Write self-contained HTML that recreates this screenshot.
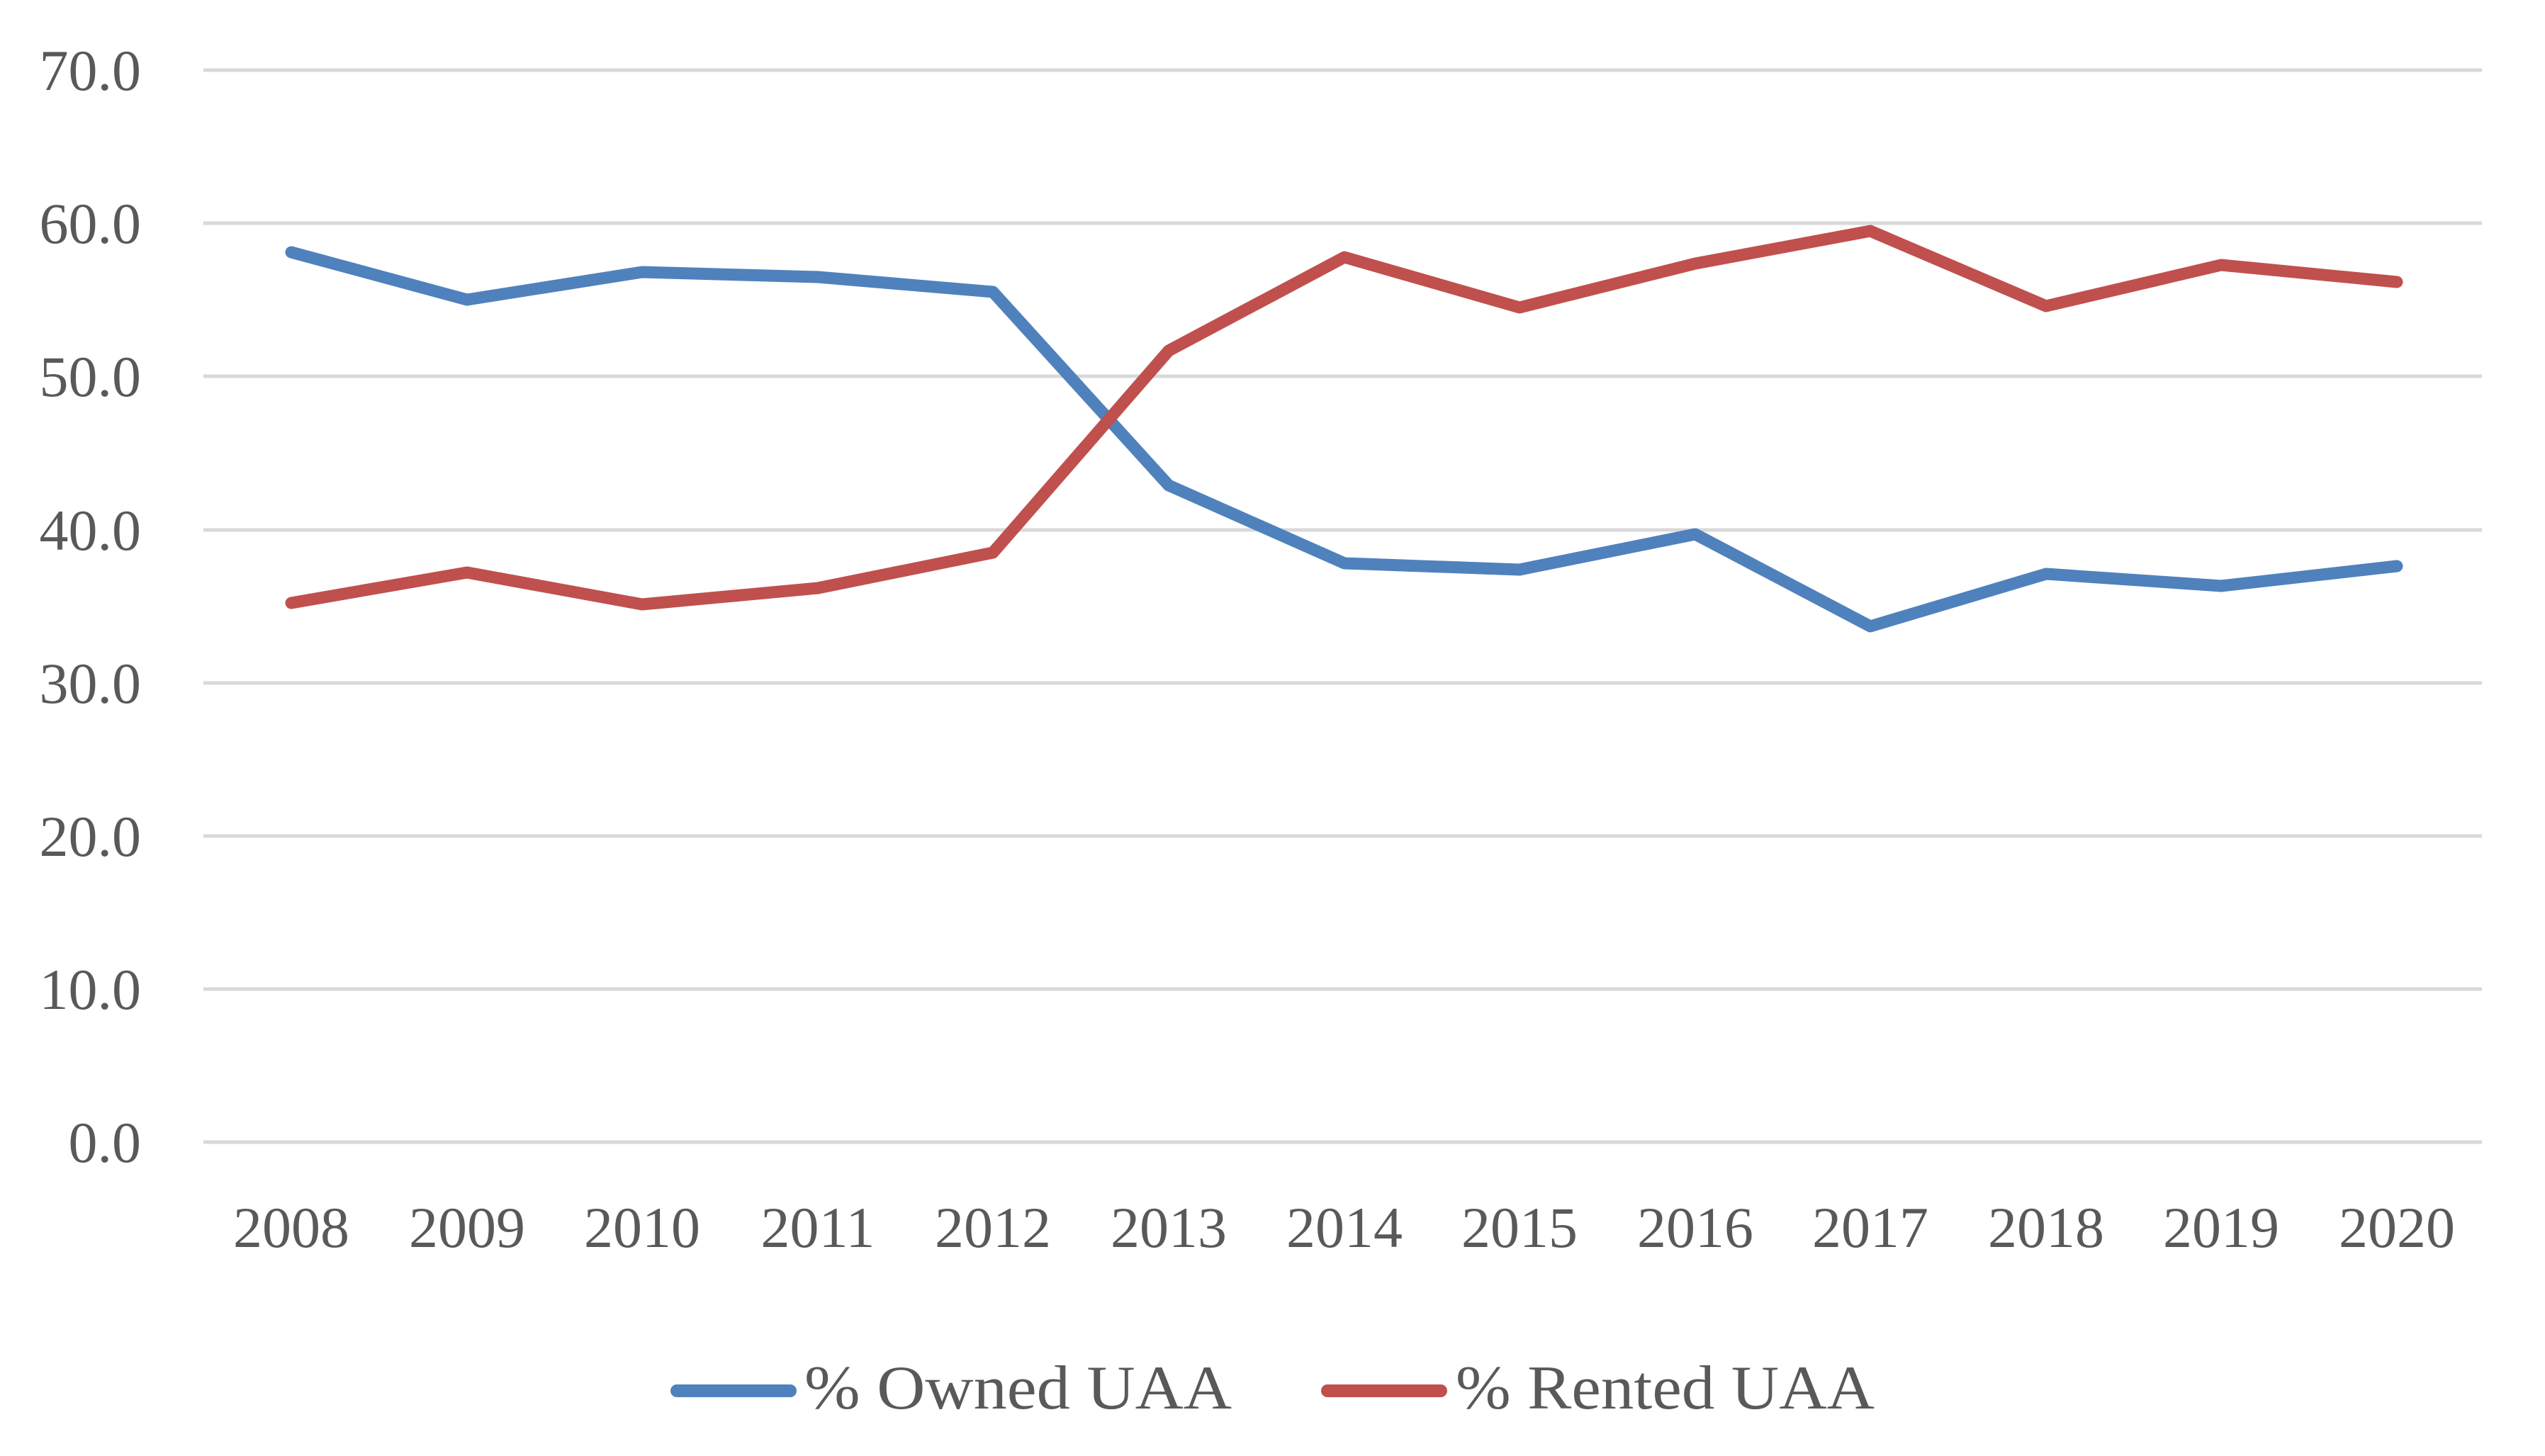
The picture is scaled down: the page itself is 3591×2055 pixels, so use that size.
<!DOCTYPE html>
<html><head><meta charset="utf-8"><style>html,body{margin:0;padding:0;background:#fff}svg{display:block}</style></head>
<body>
<svg width="3591" height="2055" viewBox="0 0 3591 2055" xmlns="http://www.w3.org/2000/svg" font-family="'Liberation Serif', serif" fill="#595959">
<g stroke="#d9d9d9" stroke-width="5">
<line x1="287" y1="99" x2="3502" y2="99"/>
<line x1="287" y1="315" x2="3502" y2="315"/>
<line x1="287" y1="531" x2="3502" y2="531"/>
<line x1="287" y1="748" x2="3502" y2="748"/>
<line x1="287" y1="964" x2="3502" y2="964"/>
<line x1="287" y1="1180" x2="3502" y2="1180"/>
<line x1="287" y1="1396" x2="3502" y2="1396"/>
<line x1="287" y1="1612" x2="3502" y2="1612"/>
</g>
<g font-size="82" text-anchor="end">
<text x="199" y="127">70.0</text>
<text x="199" y="343">60.0</text>
<text x="199" y="559">50.0</text>
<text x="199" y="776">40.0</text>
<text x="199" y="992">30.0</text>
<text x="199" y="1208">20.0</text>
<text x="199" y="1424">10.0</text>
<text x="199" y="1640">0.0</text>
</g>
<g font-size="82" text-anchor="middle">
<text x="411" y="1760">2008</text>
<text x="659" y="1760">2009</text>
<text x="906" y="1760">2010</text>
<text x="1154" y="1760">2011</text>
<text x="1401" y="1760">2012</text>
<text x="1649" y="1760">2013</text>
<text x="1897" y="1760">2014</text>
<text x="2144" y="1760">2015</text>
<text x="2392" y="1760">2016</text>
<text x="2639" y="1760">2017</text>
<text x="2887" y="1760">2018</text>
<text x="3134" y="1760">2019</text>
<text x="3382" y="1760">2020</text>
</g>
<polyline fill="none" stroke="#4f81bd" stroke-width="17" stroke-linecap="round" stroke-linejoin="round"
points="411,356 659,423 906,384 1154,391 1401,412 1649,685 1897,795 2144,804 2392,754 2639,884 2887,810 3134,827 3382,799"/>
<polyline fill="none" stroke="#c0504d" stroke-width="17" stroke-linecap="round" stroke-linejoin="round"
points="411,851 659,808 906,853 1154,830 1401,780 1649,495 1897,363 2144,434 2392,372 2639,326 2887,432 3134,374 3382,398"/>
<line x1="955" y1="1963" x2="1115" y2="1963" stroke="#4f81bd" stroke-width="18" stroke-linecap="round"/>
<text x="1135" y="1988" font-size="88" textLength="603" lengthAdjust="spacingAndGlyphs">% Owned UAA</text>
<line x1="1873" y1="1963" x2="2033" y2="1963" stroke="#c0504d" stroke-width="18" stroke-linecap="round"/>
<text x="2054" y="1988" font-size="88" textLength="591" lengthAdjust="spacingAndGlyphs">% Rented UAA</text>
</svg>
</body></html>
